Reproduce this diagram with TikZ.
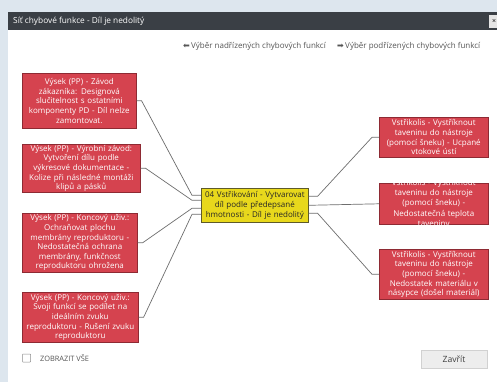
\documentclass[tikz,border=0pt]{standalone}
\usepackage{fontspec}
\setmainfont{Open Sans}
\newfontfamily\symfont{DejaVu Sans}
\usetikzlibrary{calc}
\definecolor{pagebg}{HTML}{DDE6EE}
\definecolor{titlebar}{HTML}{3A3F45}
\definecolor{errfill}{HTML}{D5434F}
\definecolor{errdraw}{HTML}{8E2A33}
\definecolor{focusfill}{HTML}{E8D81C}
\definecolor{focusdraw}{HTML}{5E5A2A}
\definecolor{linkgray}{HTML}{555555}
\definecolor{wire}{HTML}{6E6E6E}
\tikzset{
  errbox/.style={draw=errdraw, fill=errfill, line width=0.6pt, text=white,
    inner sep=0pt, align=center, font=\fontsize{8}{9.6}\selectfont,
    anchor=north west},
  focusbox/.style={draw=focusdraw, fill=focusfill, line width=0.6pt, text=black!85,
    inner sep=0pt, align=center, font=\fontsize{8}{9.6}\selectfont,
    anchor=north west},
  wirestyle/.style={draw=wire, line width=0.7pt},
  smalltext/.style={font=\fontsize{8}{9}\selectfont, text=linkgray, inner sep=0pt}
}
\begin{document}
\begin{tikzpicture}[x=1pt, y=-1pt]
  % page background and dialog
  \fill[pagebg] (0,0) rectangle (497,382);
  \useasboundingbox (0,0) rectangle (497,382);
  \fill[white] (8,12) rectangle (497,382);
  \fill[titlebar] (8,12) rectangle (497,30);
  \node[anchor=west, text=white, font=\fontsize{8.3}{9}\selectfont, inner sep=0pt] (title) at (13,21) {Síť chybové funkce - Díl je nedolitý};
  \fill[black!10] (489,15) rectangle (497,28);
  \node[font=\fontsize{7}{8}\selectfont, inner sep=0pt] (closex) at (494,21.5) {×};

  % navigation links
  \node[smalltext, anchor=east] (upper) at (326,46) {{\symfont ⬅}\,Výběr nadřízených chybových funkcí};
  \node[smalltext, anchor=west] (lower) at (337,46) {{\symfont ➡}\,Výběr podřízených chybových funkcí};

  % failure nodes, left column
  \node[errbox, minimum width=114pt, minimum height=55pt, text width=112pt] (l1) at (22,73)
    {Výsek (PP) - Závod\\zákazníka: Designová\\slučitelnost s ostatními\\komponenty PD - Díl nelze\\zamontovat.};
  \node[errbox, minimum width=118pt, minimum height=48pt, text width=116pt] (l2) at (22,144)
    {Výsek (PP) - Výrobní závod:\\Vytvoření dílu podle\\výkresové dokumentace -\\Kolize při následné montáži\\klipů a pásků};
  \node[errbox, minimum width=115pt, minimum height=59pt, text width=113pt] (l3) at (22,213)
    {Výsek (PP) - Koncový uživ.:\\Ochraňovat plochu\\membrány reproduktoru -\\Nedostatečná ochrana\\membrány, funkčnost\\reproduktoru ohrožena};
  \node[errbox, minimum width=116pt, minimum height=50pt, text width=114pt] (l4) at (22,292)
    {Výsek (PP) - Koncový uživ.:\\Svoji funkcí se podílet na\\ideálním zvuku\\reproduktoru - Rušení zvuku\\reproduktoru};

  % focus node
  \node[focusbox, minimum width=107pt, minimum height=34pt, text width=105pt] (f) at (201,188)
    {04 Vstřikování - Vytvarovat\\díl podle předepsané\\hmotnosti - Díl je nedolitý};

  % failure nodes, right column
  \node[errbox, minimum width=109pt, minimum height=40pt, text width=107pt] (r1) at (379,117)
    {Vstřikolis - Vystříknout\\taveninu do nástroje\\(pomocí šneku) - Ucpané\\vtokové ústí};
  % fixed-height box whose text runs past its edges (white on white outside)
  \node[errbox, minimum width=109pt, minimum height=41pt] (r2) at (379,183) {};
  \node[text=white, inner sep=0pt, align=center, text width=107pt,
        font=\fontsize{8}{10.4}\selectfont] (r2text) at (r2.center)
    {Vstřikolis - Vystříknout\\taveninu do nástroje\\(pomocí šneku) -\\Nedostatečná teplota\\taveniny};
  \node[errbox, minimum width=109pt, minimum height=50pt, text width=107pt] (r3) at (379,249)
    {Vstřikolis - Vystříknout\\taveninu do nástroje\\(pomocí šneku) -\\Nedostatek materiálu v\\násypce (došel materiál)};

  % connectors into the focus node
  \draw[wirestyle] (l1.east) -- ++(5,0) -- ($(f.west)+(-9,195-205)$) -- ($(f.west)+(0,195-205)$);
  \draw[wirestyle] (l2.east) -- ++(5,0) -- ($(f.west)+(-9,200-205)$) -- ($(f.west)+(0,200-205)$);
  \draw[wirestyle] (l3.east) -- ++(5,0) -- ($(f.west)+(-9,208-205)$) -- ($(f.west)+(0,208-205)$);
  \draw[wirestyle] (l4.east) -- ++(5,0) -- ($(f.west)+(-9,214-205)$) -- ($(f.west)+(0,214-205)$);

  % connectors out of the focus node
  \draw[wirestyle] ($(f.east)+(0,196-205)$) -- ++(9,0) -- ($(r1.west)+(-7,0)$) -- (r1.west);
  \draw[wirestyle] (f.east) -- (r2.west);
  \draw[wirestyle] ($(f.east)+(0,213-205)$) -- ++(9,0) -- ($(r3.west)+(-7,0)$) -- (r3.west);

  % footer
  \draw[black!45, line width=0.5pt, rounded corners=0.5pt] (22.5,354) rectangle (30.5,362) coordinate (cb);
  \node[smalltext, anchor=west, font=\fontsize{7.4}{8}\selectfont] (showall) at (40,358) {ZOBRAZIT VŠE};
  \node[draw=black!18, fill=black!7, minimum width=66pt, minimum height=18pt, inner sep=0pt,
        font=\fontsize{8.6}{9}\selectfont, text=black!75] (close) at (454,359) {Zavřít};
\end{tikzpicture}
\end{document}
